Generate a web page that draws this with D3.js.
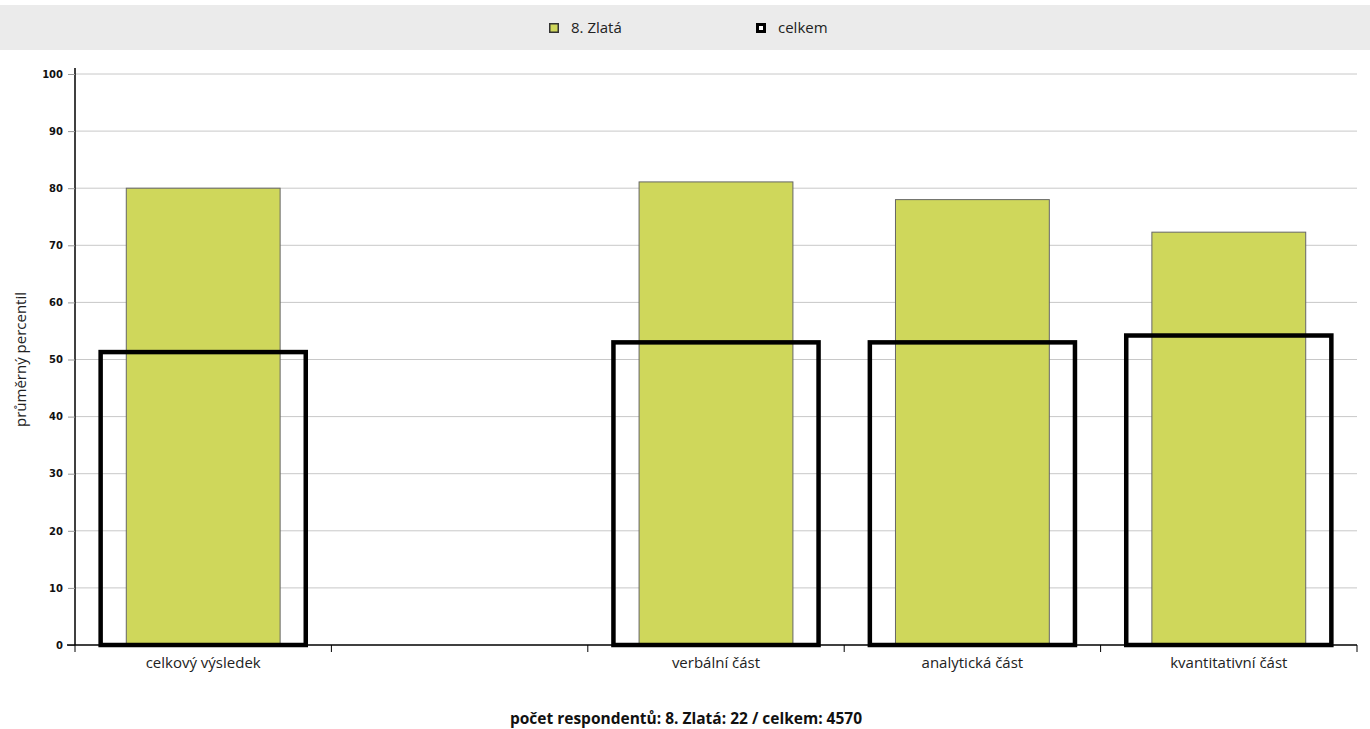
<!DOCTYPE html>
<html>
<head>
<meta charset="utf-8">
<script src="https://cdn.jsdelivr.net/npm/d3@7"></script>
<style>
  body { margin: 0; background: #fff; }
  text { font-family: "Open Sans", "Noto Sans", sans-serif; }
</style>
</head>
<body>
<svg id="chart" width="1370" height="729"></svg>
<script>
// categories (empty slot kept as in the original layout)
var categories = [ "celkový výsledek", "", "verbální část", "analytická část", "kvantitativní část" ];
var schoolValues = [ 80.0, null, 81.1, 78.0, 72.3 ];   // 8. Zlatá
var totalValues  = [ 51.3, null, 53.0, 53.0, 54.2 ];   // celkem
var yTicks = [ 0, 10, 20, 30, 40, 50, 60, 70, 80, 90, 100 ];
var seriesNames = [ "8. Zlatá", "celkem" ];
var footerText = "počet respondentů: 8. Zlatá: 22 / celkem: 4570";
var yLabel = "průměrný percentil";

var svg = d3.select( "#chart" );
var plotL = 75, plotR = 1357, plotT = 74, plotB = 645;

var x = d3.scaleBand()
    .domain( d3.range( categories.length ) )
    .range( [ plotL, plotR ] );
var y = d3.scaleLinear()
    .domain( [ 0, 100 ] )
    .range( [ plotB, plotT ] );

// legend strip
svg.append( "rect" )
  .attr( "x", 0 ).attr( "y", 5 )
  .attr( "width", 1370 ).attr( "height", 45 )
  .attr( "fill", "#ebebeb" );

var legend = [
    { name: seriesNames[0], x: 549, fill: "#cfd75b", stroke: "#333", sw: 1.5 },
    { name: seriesNames[1], x: 756, fill: "#ffffff", stroke: "#000", sw: 3 }
];
legend.forEach( function( d ) {
    svg.append( "rect" )
      .attr( "x", d.x + d.sw / 2 ).attr( "y", 23 + d.sw / 2 )
      .attr( "width", 10 - d.sw ).attr( "height", 10 - d.sw )
      .attr( "fill", d.fill ).attr( "stroke", d.stroke ).attr( "stroke-width", d.sw );
    svg.append( "text" )
      .attr( "x", d.x + 22 ).attr( "y", 33 )
      .style( "font-size", "15px" ).attr( "fill", "#222" )
      .text( d.name );
});

// grid lines
svg.append( "g" ).selectAll( "line" ).data( yTicks.slice( 1 ) ).enter()
  .append( "line" )
    .attr( "x1", plotL ).attr( "x2", plotR )
    .attr( "y1", function( d ) { return y( d ); } )
    .attr( "y2", function( d ) { return y( d ); } )
    .attr( "stroke", "#c8c8c8" ).attr( "stroke-width", 1 );

// y axis
var yAxis = svg.append( "g" )
    .attr( "transform", "translate(" + plotL + ",0)" )
    .call( d3.axisLeft( y ).tickValues( yTicks ).tickSize( 7 ).tickPadding( 5 ) );
yAxis.select( ".domain" ).attr( "stroke", "#000" ).attr( "stroke-width", 1.5 ).attr( "d", "M0," + ( plotT - 6 ) + "V" + plotB );
yAxis.selectAll( ".tick line" ).attr( "stroke", "#999" );
yAxis.selectAll( "text" )
  .style( "font-family", "'DejaVu Sans', sans-serif" )
  .style( "font-size", "10px" ).style( "font-weight", "bold" ).attr( "fill", "#111" );

svg.append( "text" )
  .attr( "transform", "translate(26," + ( ( plotT + plotB ) / 2 ) + ") rotate(-90)" )
  .attr( "text-anchor", "middle" )
  .style( "font-size", "15px" ).attr( "fill", "#222" )
  .text( yLabel );

// green bars
var bw = x.bandwidth();
svg.append( "g" ).selectAll( "rect" )
  .data( schoolValues.map( function( v, i ) { return { v: v, i: i }; } ).filter( function( d ) { return d.v != null; } ) )
  .enter().append( "rect" )
    .attr( "x", function( d ) { return x( d.i ) + bw * 0.2; } )
    .attr( "width", bw * 0.6 )
    .attr( "y", function( d ) { return y( d.v ); } )
    .attr( "height", function( d ) { return plotB - y( d.v ); } )
    .attr( "fill", "#cfd75b" ).attr( "stroke", "#666" ).attr( "stroke-width", 1 );

// total outline bars
svg.append( "g" ).selectAll( "rect" )
  .data( totalValues.map( function( v, i ) { return { v: v, i: i }; } ).filter( function( d ) { return d.v != null; } ) )
  .enter().append( "rect" )
    .attr( "x", function( d ) { return x( d.i ) + bw * 0.1; } )
    .attr( "width", bw * 0.8 )
    .attr( "y", function( d ) { return y( d.v ); } )
    .attr( "height", function( d ) { return plotB - y( d.v ); } )
    .attr( "fill", "none" ).attr( "stroke", "#000" ).attr( "stroke-width", 4.5 );

// x axis
var xg = svg.append( "g" );
xg.append( "line" )
  .attr( "x1", plotL - 8 ).attr( "x2", plotR )
  .attr( "y1", plotB ).attr( "y2", plotB )
  .attr( "stroke", "#000" ).attr( "stroke-width", 1.5 );
xg.selectAll( "line.tk" ).data( d3.range( categories.length + 1 ) ).enter()
  .append( "line" ).attr( "class", "tk" )
    .attr( "x1", function( i ) { return plotL + i * bw; } )
    .attr( "x2", function( i ) { return plotL + i * bw; } )
    .attr( "y1", plotB ).attr( "y2", plotB + 7 )
    .attr( "stroke", "#000" ).attr( "stroke-width", 1 );
xg.selectAll( "text" ).data( categories ).enter()
  .append( "text" )
    .attr( "x", function( d, i ) { return x( i ) + bw / 2; } )
    .attr( "y", plotB + 23 )
    .attr( "text-anchor", "middle" )
    .style( "font-size", "15px" ).attr( "fill", "#222" )
    .text( function( d ) { return d; } );

// footer
svg.append( "text" )
  .attr( "x", 686 ).attr( "y", 724 )
  .attr( "text-anchor", "middle" )
  .style( "font-size", "15.5px" ).style( "font-weight", "bold" ).attr( "fill", "#111" )
  .text( footerText );
</script>
</body>
</html>
